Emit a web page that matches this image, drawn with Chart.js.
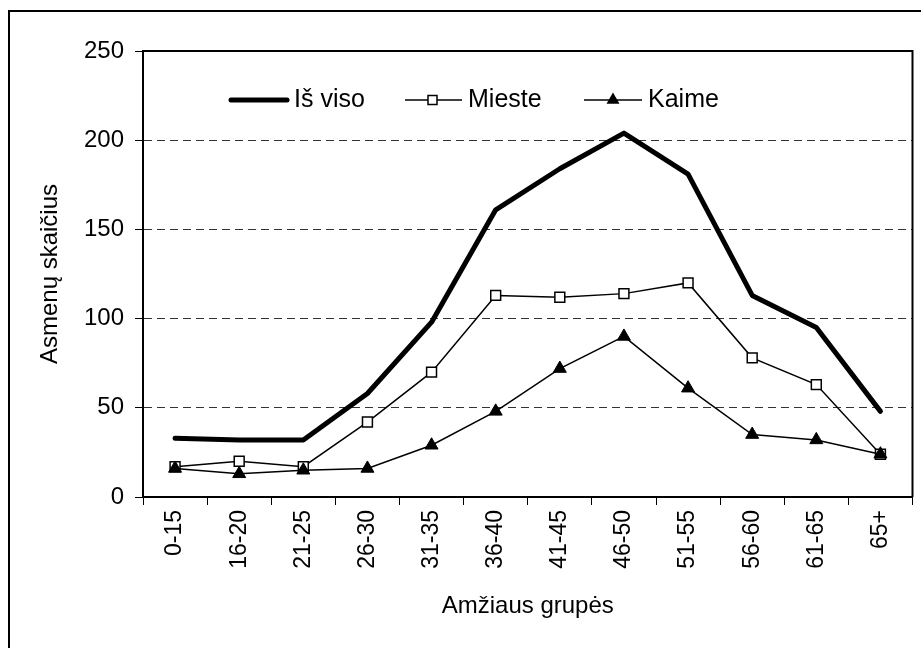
<!DOCTYPE html>
<html>
<head>
<meta charset="utf-8">
<script src="https://cdn.jsdelivr.net/npm/chart.js@4.4.1/dist/chart.umd.min.js"></script>
<style>
  html, body { margin: 0; padding: 0; background: #fff; }
  #wrap { width: 921px; height: 648px; position: relative; }
</style>
</head>
<body>
<div id="wrap"><canvas id="c" width="921" height="648"></canvas></div>
<script>
const categories = ['0-15','16-20','21-25','26-30','31-35','36-40','41-45','46-50','51-55','56-60','61-65','65+'];
const isVisoValues = [33, 32, 32, 58, 98, 161, 184, 204, 181, 113, 95, 48];
const miesteValues = [17, 20, 17, 42, 70, 113, 112, 114, 120, 78, 63, 24];
const kaimeValues  = [16, 13, 15, 16, 29, 48, 72, 90, 61, 35, 32, 24];
const yTicks = [0, 50, 100, 150, 200, 250];
const seriesNames = ['Iš viso', 'Mieste', 'Kaime'];
const xTitle = 'Amžiaus grupės';
const yTitle = 'Asmenų skaičius';

const FONT = "'Liberation Sans', Arial, sans-serif";

const framePlugin = {
  id: 'frame',
  beforeDraw(chart) {
    const ctx = chart.ctx;
    ctx.save();
    ctx.fillStyle = '#fff';
    ctx.fillRect(0, 0, chart.width, chart.height);
    ctx.strokeStyle = '#000';
    ctx.lineWidth = 2;
    ctx.strokeRect(9, 11, chart.width + 20, chart.height + 20);
    ctx.restore();
  },
  afterDatasetsDraw(chart) {
    const {ctx, chartArea: a} = chart;
    ctx.save();
    ctx.strokeStyle = '#000';
    ctx.lineWidth = 2;
    ctx.beginPath();
    ctx.moveTo(a.left, a.top);
    ctx.lineTo(a.right, a.top);
    ctx.lineTo(a.right, a.bottom);
    ctx.stroke();
    ctx.restore();
  }
};

const legendPlugin = {
  id: 'customLegend',
  afterDraw(chart) {
    const ctx = chart.ctx;
    const y = 100;
    ctx.save();
    ctx.font = '25px ' + FONT;
    ctx.fillStyle = '#000';
    ctx.textBaseline = 'alphabetic';
    ctx.strokeStyle = '#000';
    // Iš viso
    ctx.lineCap = 'round';
    ctx.lineWidth = 5;
    ctx.beginPath(); ctx.moveTo(231, y); ctx.lineTo(287, y); ctx.stroke();
    ctx.fillText(seriesNames[0], 294, y + 7);
    // Mieste
    ctx.lineCap = 'butt';
    ctx.lineWidth = 1.5;
    ctx.beginPath(); ctx.moveTo(405, y); ctx.lineTo(462, y); ctx.stroke();
    ctx.fillStyle = '#fff';
    ctx.fillRect(428, y - 4.5, 9, 9);
    ctx.strokeRect(428, y - 4.5, 9, 9);
    ctx.fillStyle = '#000';
    ctx.fillText(seriesNames[1], 468, y + 7);
    // Kaime
    ctx.beginPath(); ctx.moveTo(584, y); ctx.lineTo(642, y); ctx.stroke();
    const r = 7.5;
    ctx.beginPath();
    ctx.moveTo(613, y - r);
    ctx.lineTo(613 + r * 0.866, y + r / 2);
    ctx.lineTo(613 - r * 0.866, y + r / 2);
    ctx.closePath();
    ctx.fill();
    ctx.fillText(seriesNames[2], 648, y + 7);
    ctx.restore();
  }
};

new Chart(document.getElementById('c'), {
  type: 'line',
  data: {
    labels: categories,
    datasets: [
      {
        label: seriesNames[0], data: isVisoValues, order: 3,
        borderColor: '#000', borderWidth: 5, pointRadius: 0,
        borderJoinStyle: 'round', borderCapStyle: 'round', tension: 0, fill: false
      },
      {
        label: seriesNames[1], data: miesteValues, order: 2,
        borderColor: '#000', borderWidth: 1.5, tension: 0, fill: false,
        pointStyle: 'rect', pointRadius: 7, pointBackgroundColor: '#fff',
        pointBorderColor: '#000', pointBorderWidth: 1.5
      },
      {
        label: seriesNames[2], data: kaimeValues, order: 1,
        borderColor: '#000', borderWidth: 1.5, tension: 0, fill: false,
        pointStyle: 'triangle', pointRadius: 7.5, pointBackgroundColor: '#000',
        pointBorderColor: '#000', pointBorderWidth: 1
      }
    ]
  },
  options: {
    responsive: false,
    animation: false,
    devicePixelRatio: 1,
    layout: { padding: { left: 0, top: 51, right: 8, bottom: 0 } },
    plugins: { legend: { display: false }, tooltip: { enabled: false } },
    scales: {
      x: {
        type: 'category',
        offset: true,
        afterFit(scale) { scale.height = 151; },
        grid: {
          offset: true, drawOnChartArea: false, drawTicks: true,
          tickLength: 8, tickColor: '#000', tickWidth: 1, tickBorderDash: []
        },
        border: { display: true, color: '#000', width: 2 },
        ticks: {
          color: '#000', font: { family: FONT, size: 23 },
          minRotation: 90, maxRotation: 90, padding: 5, autoSkip: false
        },
        title: {
          display: true, text: xTitle, color: '#000',
          font: { family: FONT, size: 24 }, padding: { top: 0, bottom: 27 }
        }
      },
      y: {
        min: 0, max: 250,
        afterFit(scale) { scale.width = 143; },
        afterBuildTicks(scale) { scale.ticks = yTicks.map(v => ({ value: v })); },
        grid: {
          drawTicks: true, tickLength: 8, tickColor: '#000', tickWidth: 1, tickBorderDash: [],
          color: (c) => (c.tick && (c.tick.value === 0 || c.tick.value === 250)) ? 'rgba(0,0,0,0)' : '#333',
          lineWidth: 1
        },
        border: { display: true, color: '#000', width: 2, dash: [8, 5] },
        ticks: {
          color: '#000', font: { family: FONT, size: 24 }, padding: 11,
          stepSize: 50
        },
        title: {
          display: true, text: yTitle, color: '#000',
          font: { family: FONT, size: 24 }, padding: { top: 36, bottom: 0 }
        }
      }
    }
  },
  plugins: [framePlugin, legendPlugin]
});
</script>
</body>
</html>
